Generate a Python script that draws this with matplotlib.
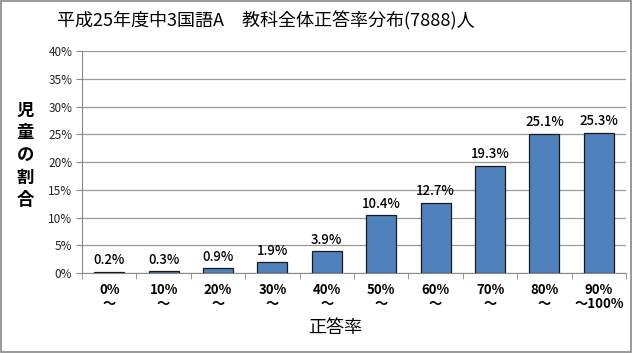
import numpy as np
import matplotlib.pyplot as plt
from matplotlib.patches import Rectangle

plt.rcParams['font.family'] = ['Noto Sans CJK JP', 'DejaVu Sans']

"""Data read from the chart."""
categories = ['0%\n～', '10%\n～', '20%\n～', '30%\n～', '40%\n～',
              '50%\n～', '60%\n～', '70%\n～', '80%\n～', '90%\n～100%']
values = [0.2, 0.3, 0.9, 1.9, 3.9, 10.4, 12.7, 19.3, 25.1, 25.3]
labels = ['0.2%', '0.3%', '0.9%', '1.9%', '3.9%', '10.4%', '12.7%', '19.3%', '25.1%', '25.3%']

fig = plt.figure(figsize=(6.33, 3.53), dpi=100)
ax = fig.add_axes([0.1295, 0.2266, 0.8595, 0.6289])

"""Outer border of the chart."""
fig.patches.append(Rectangle((0.002, 0.003), 0.995, 0.994, transform=fig.transFigure,
                             fill=False, edgecolor='#888888', linewidth=1.2))

x = np.arange(len(values))
ax.bar(x, values, width=0.55, color='#4F81BD', edgecolor='#1a1a1a', linewidth=0.9, zorder=3)

for xi, v, lab in zip(x, values, labels):
    ax.text(xi, v + 0.8, lab, ha='center', va='bottom', fontsize=9.5, fontweight='medium')

ax.set_xlim(-0.5, len(values) - 0.5)
ax.set_ylim(0, 40)
ax.set_yticks(np.arange(0, 41, 5))
ax.set_yticklabels([str(t) + '%' for t in range(0, 41, 5)], fontsize=8.5, color='#222222')
ax.yaxis.grid(True, color='#999999', linewidth=0.9, zorder=0)

ax.set_xticks(x)
ax.set_xticklabels(categories, fontsize=9.5, fontweight='bold', linespacing=1.0)
ax.set_xticks(np.arange(-0.5, len(values)), minor=True)
ax.tick_params(axis='x', which='major', length=0, pad=7)
ax.tick_params(axis='x', which='minor', length=4, color='#888888')
ax.tick_params(axis='y', length=4, color='#888888', pad=3)

for side in ['top', 'right']:
    ax.spines[side].set_visible(False)
ax.spines['left'].set_color('#888888')
ax.spines['bottom'].set_color('#888888')

fig.text(0.42, 0.94, '平成25年度中3国語A　教科全体正答率分布(7888)人', ha='center', va='center', fontsize=13)
fig.text(0.529, 0.072, '正答率', ha='center', va='center', fontsize=13)
fig.text(0.04, 0.56, '児\n童\nの\n割\n合', ha='center', va='center', fontsize=12.5,
         fontweight='bold', linespacing=1.3)

fig.savefig('out.png', dpi=100)
